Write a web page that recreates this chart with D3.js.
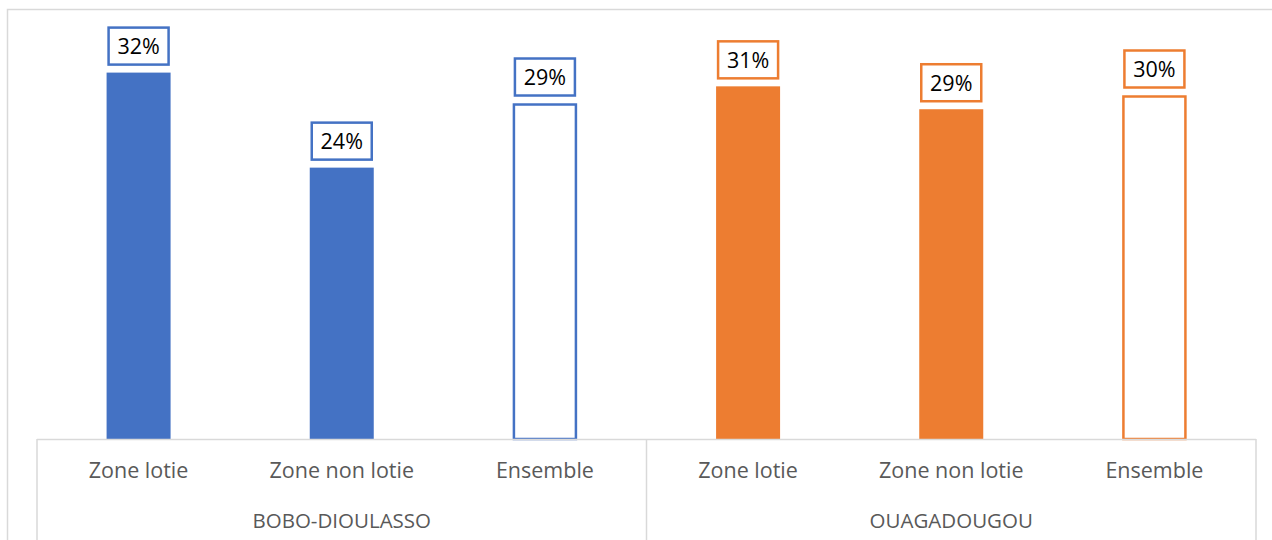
<!DOCTYPE html>
<html><head><meta charset="utf-8">
<script src="https://cdn.jsdelivr.net/npm/d3@7"></script>
<style>body{margin:0;background:#fff}svg{display:block}</style>
</head><body>
<svg id="c" width="1272" height="540"></svg>
<script>
const groups = ["BOBO-DIOULASSO", "OUAGADOUGOU"];
const categories = ["Zone lotie", "Zone non lotie", "Ensemble"];
const boboValues = [32.0, 23.7, 29.3];
const ouagaValues = [30.8, 28.8, 30.0];
const valueLabels = [["32%", "24%", "29%"], ["31%", "29%", "30%"]];
const groupColors = ["#4472C4", "#ED7D31"];

const rows = [];
[boboValues, ouagaValues].forEach((vals, gi) => {
  vals.forEach((v, ci) => rows.push({g: gi, c: ci, key: gi + "-" + ci, v, label: valueLabels[gi][ci], hollow: ci === 2}));
});

const svg = d3.select("#c");
const left = 37, right = 1256, base = 439;
const x = d3.scaleBand().domain(rows.map(d => d.key)).range([left, right]).paddingInner(0.685).paddingOuter(0.3425);
const y = d3.scaleLinear().domain([0, 35]).range([base, base - 35 * 11.45]);
const grey = "#d9d9d9";
const font = "Open Sans, sans-serif";

// chart frame
svg.append("rect").attr("x", 7.5).attr("y", 9.5).attr("width", 1300).attr("height", 600)
  .attr("fill", "none").attr("stroke", grey).attr("stroke-width", 1.5);

// bars
svg.selectAll("rect.bar").data(rows).join("rect").attr("class", "bar")
  .attr("x", d => d.hollow ? x(d.key) + 1 : x(d.key))
  .attr("y", d => d.hollow ? y(d.v) + 1 : y(d.v))
  .attr("width", d => d.hollow ? x.bandwidth() - 2 : x.bandwidth())
  .attr("height", d => d.hollow ? base - y(d.v) - 1 : base - y(d.v))
  .attr("fill", d => d.hollow ? "#fff" : groupColors[d.g])
  .attr("stroke", d => d.hollow ? groupColors[d.g] : "none")
  .attr("stroke-width", 2.5);

// axis lines
svg.append("line").attr("x1", left).attr("x2", right).attr("y1", base + 0.5).attr("y2", base + 0.5)
  .attr("stroke", grey).attr("stroke-width", 1.5);
const sepX = [left, (left + right) / 2, right];
svg.selectAll("line.sep").data(sepX).join("line").attr("class", "sep")
  .attr("x1", d => d).attr("x2", d => d).attr("y1", base).attr("y2", 540)
  .attr("stroke", grey).attr("stroke-width", 1.5);

// category labels
svg.selectAll("text.cat").data(rows).join("text").attr("class", "cat")
  .attr("x", d => x(d.key) + x.bandwidth() / 2).attr("y", 478)
  .attr("text-anchor", "middle").attr("font-family", font)
  .attr("font-size", 21.5).attr("fill", "#595959").text(d => categories[d.c]);

// group labels
svg.selectAll("text.grp").data(groups).join("text").attr("class", "grp")
  .attr("x", (d, i) => (sepX[i] + sepX[i + 1]) / 2).attr("y", 528)
  .attr("text-anchor", "middle").attr("font-family", font)
  .attr("font-size", 20.5).attr("fill", "#595959").text(d => d);

// value labels with boxes
const lab = svg.selectAll("g.lab").data(rows).join("g").attr("class", "lab")
  .attr("transform", d => `translate(${x(d.key) + x.bandwidth() / 2},${y(d.v) - 7})`);
lab.append("rect").attr("x", -30).attr("y", -38).attr("width", 60).attr("height", 37)
  .attr("fill", "#fff").attr("stroke", d => groupColors[d.g]).attr("stroke-width", 2.5);
lab.append("text").attr("x", 0).attr("y", -11.5).attr("text-anchor", "middle")
  .attr("font-family", font).attr("font-size", 21.5).attr("fill", "#000")
  .text(d => d.label);
</script>
</body></html>
